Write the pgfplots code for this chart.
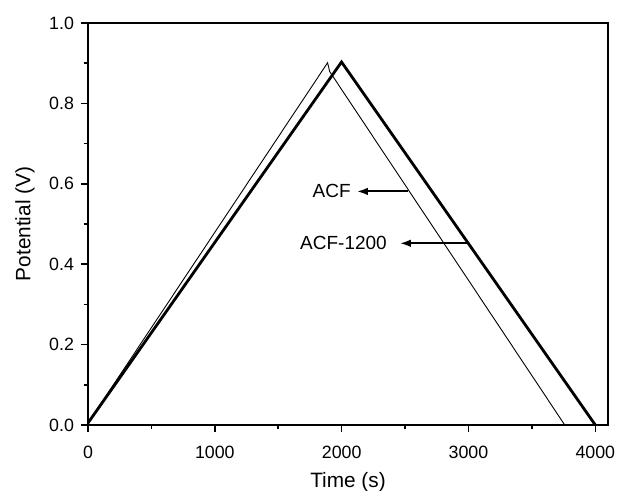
\documentclass[border=0pt]{standalone}
\usepackage{fontspec}
\setmainfont{Liberation Sans}
\usepackage{pgfplots}
\pgfplotsset{compat=1.18}
\usetikzlibrary{arrows.meta}
\begin{document}
\begin{tikzpicture}
\path[use as bounding box] (-44pt,-33pt) rectangle (264.5pt,212.5pt);
\begin{axis}[
  at={(0pt,0pt)}, anchor=origin,
  scale only axis,
  width=260pt, height=201pt,
  xmin=0, xmax=4100, ymin=0, ymax=1.0,
  xtick={0,1000,2000,3000,4000},
  ytick={0,0.2,0.4,0.6,0.8,1.0},
  minor xtick={500,1500,2500,3500},
  minor ytick={0.1,0.3,0.5,0.7,0.9},
  yticklabel style={/pgf/number format/.cd,fixed,fixed zerofill,precision=1},
  /pgf/number format/assume math mode=true,
  tick align=outside,
  xtick pos=bottom, ytick pos=left,
  major tick length=3.5pt, minor tick length=2.2pt,
  every tick/.style={black, line width=0.8pt},
  axis line style={line width=0.8pt},
  tick label style={font=\fontsize{8.9}{9}\selectfont},
  label style={font=\fontsize{10.4}{11}\selectfont},
  xlabel={Time (s)}, ylabel={Potential (V)},
  xlabel style={at={(axis description cs:0.5,0)}, anchor=center, yshift=-28.5pt},
  ylabel style={at={(axis description cs:-0.121,0.5)}, anchor=center},
  scaled x ticks=false,
  xticklabel style={yshift=-3.5pt, /pgf/number format/.cd,1000 sep={}},
  clip=false,
]
\addplot[black, line width=0.45pt] coordinates {(0,0.005) (1889,0.901) (1906,0.879) (3759,0)};
\addplot[black, line width=1.4pt] coordinates {(0,0.005) (1999,0.903) (4000,0)};
\draw[line width=1pt, -{Latex[length=5.5pt,width=3.8pt]}] (axis cs:2522,0.581) -- (axis cs:2120,0.581);
\node[anchor=east, font=\fontsize{9.5}{10}\selectfont, inner sep=1pt] at (axis cs:2090,0.581) {ACF};
\draw[line width=1pt, -{Latex[length=5.5pt,width=3.8pt]}] (axis cs:2985,0.452) -- (axis cs:2459,0.452);
\node[anchor=east, font=\fontsize{9.5}{10}\selectfont, inner sep=1pt] at (axis cs:2375,0.452) {ACF-1200};
\end{axis}
\end{tikzpicture}
\end{document}
